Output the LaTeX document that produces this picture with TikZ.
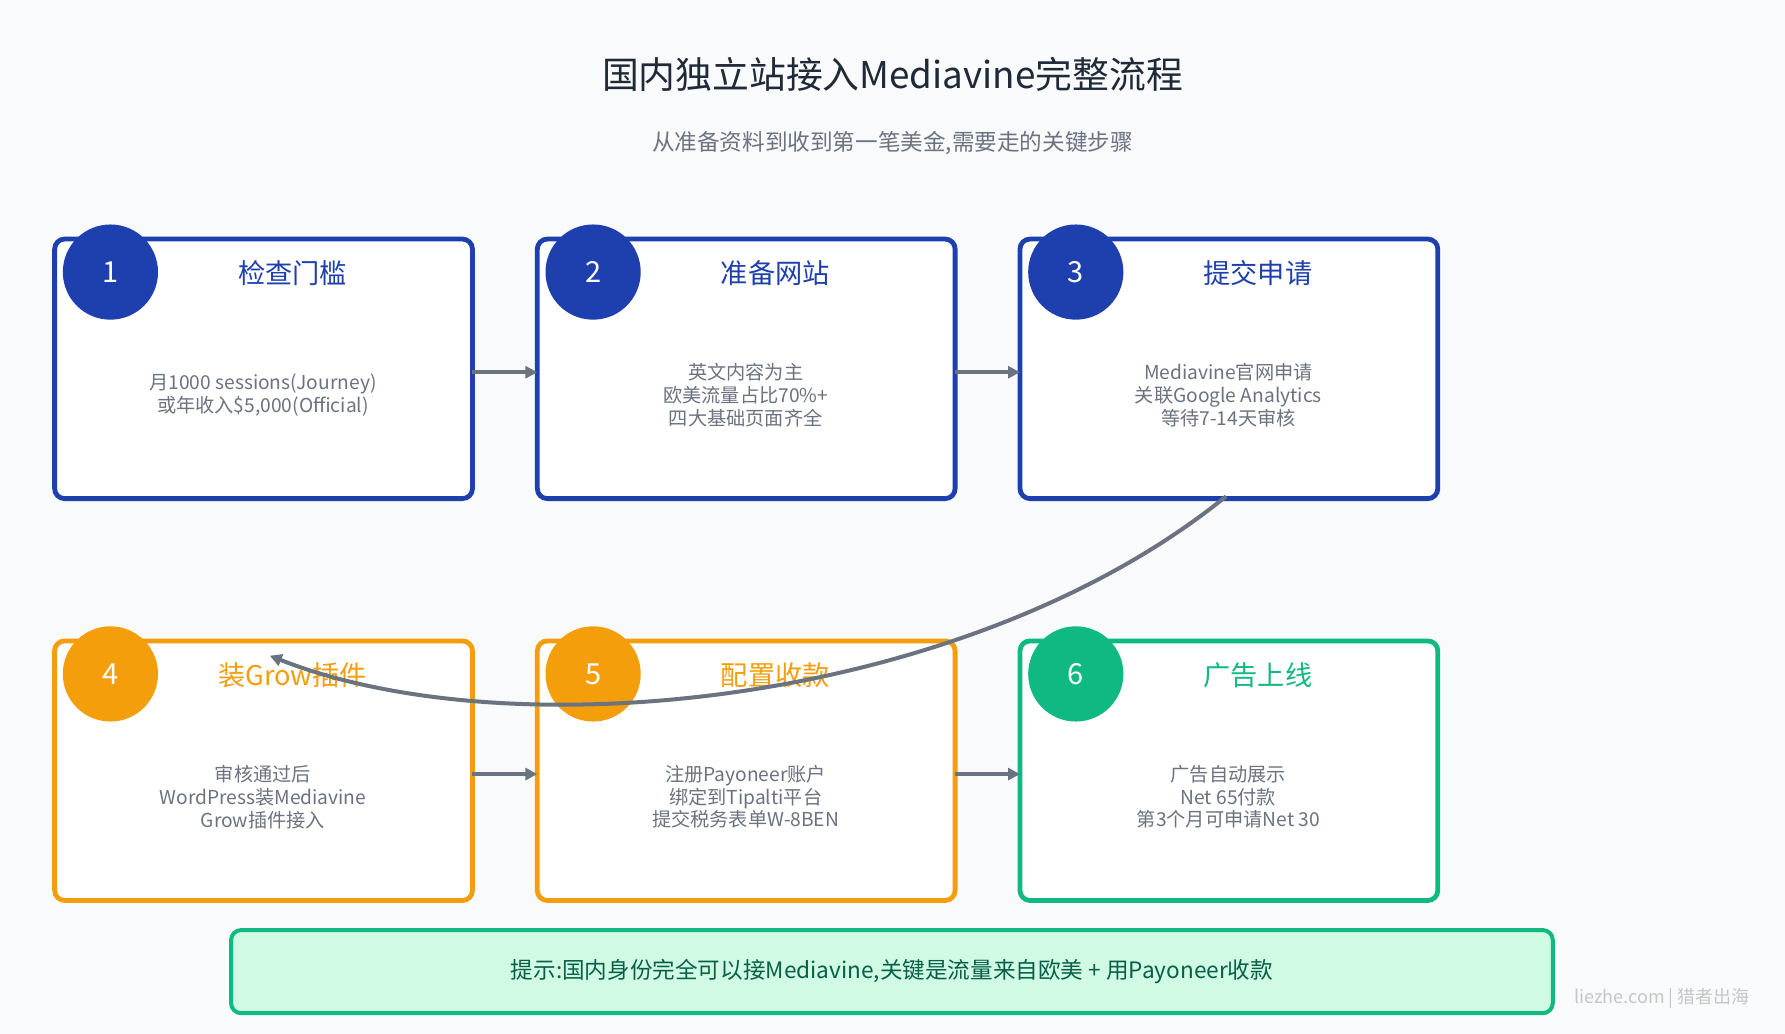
\documentclass[tikz,border=0pt]{standalone}
\usepackage{fontspec}
\setmainfont{Noto Sans CJK SC}
\usetikzlibrary{arrows.meta}
\definecolor{bg}{HTML}{F9FAFB}
\definecolor{blu}{HTML}{1E40AF}
\definecolor{org}{HTML}{F59E0B}
\definecolor{grn}{HTML}{10B981}
\definecolor{gry}{HTML}{6B7280}
\definecolor{ttl}{HTML}{1F2937}
\definecolor{tipbg}{HTML}{D1FAE5}
\definecolor{tiptx}{HTML}{065F46}
\begin{document}
\begin{tikzpicture}[x=0.02cm,y=-0.02cm,
 box/.style={draw=#1,line width=2.4pt,rounded corners=5pt,fill=white},
 num/.style={circle,fill=#1,minimum size=47.6pt,inner sep=0pt,text=white,font=\fontsize{14.5}{16}\selectfont},
 hd/.style={text=#1,font=\fontsize{13.6}{16}\selectfont},
 body/.style={text=gry,align=center,font=\fontsize{9.6}{11.4}\selectfont},
 arr/.style={draw=gry,line width=2pt,-{Triangle[length=6pt,width=6pt]}}]
\fill[bg] (0,0) rectangle (1568,908);
\useasboundingbox (0,0) rectangle (1568,908);
\node[text=ttl,font=\fontsize{18.4}{22}\selectfont] (title) at (784,65) {国内独立站接入Mediavine完整流程};
\node[text=gry,font=\fontsize{11.3}{13}\selectfont] (sub) at (784,126) {从准备资料到收到第一笔美金,需要走的关键步骤};
% row 1
\foreach \i/\x/\c/\t in {1/48/blu/检查门槛,2/472/blu/准备网站,3/896/blu/提交申请}{
 \draw[box=\c] (\x,210) rectangle ++(367,228);
 \node[num=\c] (n\i) at (\x+49,239) {\i};
 \node[hd=\c] (h\i) at (\x+209,240) {\t};
}
\foreach \i/\x/\c/\t in {4/48/org/装Grow插件,5/472/org/配置收款,6/896/grn/广告上线}{
 \draw[box=\c] (\x,563) rectangle ++(367,228);
 \node[num=\c] (n\i) at (\x+49,592) {\i};
 \node[hd=\c] (h\i) at (\x+209,593) {\t};
}
\node[body] (b1) at (231,347) {月1000 sessions(Journey)\\或年收入\$5,000(Official)};
\node[body] (b2) at (655,347) {英文内容为主\\欧美流量占比70\%+\\四大基础页面齐全};
\node[body] (b3) at (1079,347) {Mediavine官网申请\\关联Google Analytics\\等待7-14天审核};
\node[body] (b4) at (231,700) {审核通过后\\WordPress装Mediavine\\Grow插件接入};
\node[body] (b5) at (655,700) {注册Payoneer账户\\绑定到Tipalti平台\\提交税务表单W-8BEN};
\node[body] (b6) at (1079,700) {广告自动展示\\Net 65付款\\第3个月可申请Net 30};
\coordinate (a1) at (415,327); \coordinate (a2) at (472,327);
\coordinate (a3) at (839,327); \coordinate (a4) at (896,327);
\coordinate (a5) at (415,680); \coordinate (a6) at (472,680);
\coordinate (a7) at (839,680); \coordinate (a8) at (896,680);
\draw[arr] (a1) -- (a2); \draw[arr] (a3) -- (a4);
\draw[arr] (a5) -- (a6); \draw[arr] (a7) -- (a8);
\coordinate (c1) at (1077,436); \coordinate (c2) at (237,576);
\draw[arr] (c1) .. controls (850,620) and (450,660) .. (c2);
\node[draw=grn,line width=2pt,rounded corners=5pt,fill=tipbg,minimum width=1161*0.02cm,minimum height=73*0.02cm,text=tiptx,font=\fontsize{11.3}{13}\selectfont] (tip) at (783.5,853.5) {提示:国内身份完全可以接Mediavine,关键是流量来自欧美 + 用Payoneer收款};
\node[text=gray!45,font=\fontsize{9}{11}\selectfont] (wm) at (1460,877) {liezhe.com | 猎者出海};
\end{tikzpicture}
\end{document}
